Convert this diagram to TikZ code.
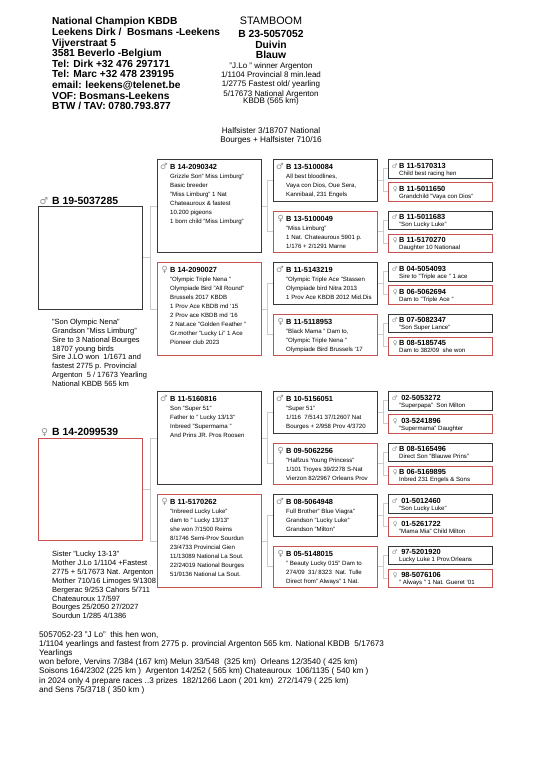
\documentclass[tikz,border=0pt]{standalone}
\usepackage{fontspec}
\setmainfont{Liberation Sans}
\newfontfamily\signfont{DejaVu Sans}
\usepackage{xcolor}
\definecolor{HenRed}{rgb}{0.78, 0.32, 0.32}
\definecolor{CockGrey}{rgb}{0.22, 0.22, 0.22}
\definecolor{LinkGrey}{rgb}{0.80, 0.80, 0.80}
\definecolor{SignGrey}{rgb}{0.55, 0.55, 0.55}
\usepackage{tikz}
\usetikzlibrary{calc, positioning}
\newcommand{\Cs}[1][8.5]{{\signfont\fontsize{#1}{#1}\selectfont\color{SignGrey}\char"2642}}
\newcommand{\Hs}[1][8.5]{{\signfont\fontsize{#1}{#1}\selectfont\color{SignGrey}\char"2640}}
\newcommand{\ring}[1]{{\fontsize{7.4}{9}\selectfont\bfseries #1}}

\begin{document}
\begin{tikzpicture}[
    x=1pt, y=-1pt,
    % Styles
    cockbox/.style={rectangle, draw=CockGrey, line width=0.9pt, inner sep=0pt, anchor=north west, minimum width=104pt},
    henbox/.style={cockbox, draw=HenRed},
    g1/.style={minimum height=102.5pt},
    g2/.style={minimum height=93pt},
    g3/.style={minimum height=41.5pt},
    g4/.style={minimum height=18.5pt},
    info/.style={align=left, inner sep=0pt, font=\fontsize{6.1}{9}\selectfont},
    tinyinfo/.style={align=left, inner sep=0pt, font=\fontsize{6.1}{7}\selectfont},
    notes/.style={align=left, inner sep=0pt, font=\fontsize{7.5}{8.9}\selectfont},
    pigeon/.style={inner sep=0pt, font=\fontsize{10.4}{12}\selectfont\bfseries},
    link/.style={draw=LinkGrey, line width=0.6pt}
]
    \useasboundingbox (0,0) rectangle (540,764);

    % 1. HEADER
    \node[anchor=north west, align=left, inner sep=0pt, font=\fontsize{10.2}{10.6}\selectfont\bfseries] (loft) at (52,17.3) {National Champion KBDB\\Leekens Dirk /\ \ Bosmans -Leekens\\Vijverstraat 5\\3581 Beverlo -Belgium\\Tel: Dirk +32 476 297171\\Tel: Marc +32 478 239195\\email: leekens@telenet.be\\VOF: Bosmans-Leekens\\BTW / TAV: 0780.793.877};
    \node[anchor=north, align=center, inner sep=0pt, font=\fontsize{10.3}{10.4}\selectfont\bfseries] (title) at (271,17) {{\mdseries\fontsize{10.8}{10.4}\selectfont STAMBOOM}\\[2.7pt]B 23-5057052\\Duivin\\Blauw};
    \node[below=3.3pt of title, align=center, inner sep=0pt, font=\fontsize{8}{9.3}\selectfont] (wins) {"J.Lo " winner Argenton\\1/1104 Provincial 8 min.lead\\1/2775 Fastest old/ yearling\\5/17673 National Argenton\\[-2pt]KBDB (565 km)};
    \node[align=center, inner sep=0pt, font=\fontsize{8.2}{9.3}\selectfont] (half) at (271,136) {Halfsister 3/18707 National\\Bourges + Halfsister 710/16};

    % 2. PARENTS
    \node[cockbox, g1] (s) at (38,206) {};
    \node[pigeon, above right=2pt and 14pt of s.north west, anchor=base west] (s-t) {\llap{\Cs[9.5]\hspace{4pt}}B 19-5037285};
    \node[notes, below right=9.3pt and 14pt of s.south west] (s-n) {"Son Olympic Nena"\\Grandson "Miss Limburg"\\Sire to 3 National Bourges\\18707 young birds\\Sire J.LO won\ \ 1/1671 and\\fastest 2775 p. Provincial\\Argenton\ \ 5 / 17673 Yearling\\National KBDB 565 km};

    \node[henbox, g1] (d) at (38,437.5) {};
    \node[pigeon, above right=2pt and 14pt of d.north west, anchor=base west] (d-t) {\llap{\Hs[9.5]\hspace{4pt}}B 14-2099539};
    \node[notes, below right=10pt and 14pt of d.south west] (d-n) {Sister "Lucky 13-13"\\Mother J.Lo 1/1104 +Fastest\\2775 + 5/17673 Nat. Argenton\\Mother 710/16 Limoges 9/1308\\Bergerac 9/253 Cahors 5/711\\Chateauroux 17/597\\Bourges 25/2050 27/2027\\Sourdun 1/285 4/1386};

    % 3. GRANDPARENTS
    \node[cockbox, g2] (ss) at (157,159) {};
    \node[info, below right=4.2pt and 13pt of ss.north west] (ss-t) {\llap{\Cs\hspace{2.4pt}}\ring{B 14-2090342}\\Grizzle Son" Miss Limburg"\\Basic breeder\\"Miss Limburg" 1 Nat\\Chateauroux \& fastest\\10.200 pigeons\\1 born child "Miss Limburg"};
    \node[henbox, g2] (sd) at (157,262) {};
    \node[info, below right=4.2pt and 13pt of sd.north west] (sd-t) {\llap{\Hs\hspace{2.4pt}}\ring{B 14-2090027}\\"Olympic Triple Nena "\\Olympiade Bird "All Round"\\Brussels 2017 KBDB\\1 Prov Ace KBDB md `15\\2 Prov ace KBDB md `16\\2 Nat.ace "Golden Feather "\\Gr.mother "Lucky Li" 1 Ace\\Pioneer club 2023};
    \node[cockbox, g2] (ds) at (157,391) {};
    \node[info, below right=4.2pt and 13pt of ds.north west] (ds-t) {\llap{\Cs\hspace{2.4pt}}\ring{B 11-5160816}\\Son "Super 51"\\Father to " Lucky 13/13"\\Inbreed "Supermama "\\And Prins JR. Pros Roosen};
    \node[henbox, g2] (dd) at (157,494) {};
    \node[info, below right=4.2pt and 13pt of dd.north west] (dd-t) {\llap{\Hs\hspace{2.4pt}}\ring{B 11-5170262}\\"Inbreed Lucky Luke"\\dam to " Lucky 13/13"\\she won 7/1500 Reims\\8/1746 Semi-Prov Sourdun\\23/4733 Provincial Gien\\11/13089 National La Sout.\\22/24019 National Bourges\\51/9136 National La Sout.};

    % 4. GREAT-GRANDPARENTS
    \node[cockbox, g3] (sss) at (273,159) {};
    \node[info, below right=4.2pt and 13pt of sss.north west] (sss-t) {\llap{\Cs\hspace{2.4pt}}\ring{B 13-5100084}\\All best bloodlines,\\Vaya con Dios, Oue Sera,\\Kannibaal, 231 Engels};
    \node[henbox, g3] (ssd) at (273,210.5) {};
    \node[info, below right=4.2pt and 13pt of ssd.north west] (ssd-t) {\llap{\Hs\hspace{2.4pt}}\ring{B 13-5100049}\\"Miss Limburg"\\1 Nat. Chateauroux 5901 p.\\1/176 + 2/1291 Marne};
    \node[cockbox, g3] (sds) at (273,262) {};
    \node[info, below right=4.2pt and 13pt of sds.north west] (sds-t) {\llap{\Cs\hspace{2.4pt}}\ring{B 11-5143219}\\"Olympic Triple Ace "Stassen\\Olympiade bird Nitra 2013\\1 Prov Ace KBDB 2012 Mid.Dis};
    \node[henbox, g3] (sdd) at (273,313.5) {};
    \node[info, below right=4.2pt and 13pt of sdd.north west] (sdd-t) {\llap{\Hs\hspace{2.4pt}}\ring{B 11-5118953}\\"Black Mama " Dam to,\\"Olympic Triple Nena "\\Olympiade Bird Brussels `17};
    \node[cockbox, g3] (dss) at (273,391) {};
    \node[info, below right=4.2pt and 13pt of dss.north west] (dss-t) {\llap{\Cs\hspace{2.4pt}}\ring{B 10-5156051}\\"Super 51"\\1/116\ \ 7/5141 37/12607 Nat\\Bourges + 2/958 Prov 4/3720};
    \node[henbox, g3] (dsd) at (273,442.5) {};
    \node[info, below right=4.2pt and 13pt of dsd.north west] (dsd-t) {\llap{\Hs\hspace{2.4pt}}\ring{B 09-5062256}\\"Halfzus Young Princess"\\1/101 Troyes 39/2278 S-Nat\\Vierzon 82/2967 Orleans Prov};
    \node[cockbox, g3] (dds) at (273,494) {};
    \node[info, below right=4.2pt and 13pt of dds.north west] (dds-t) {\llap{\Cs\hspace{2.4pt}}\ring{B 08-5064948}\\Full Brother" Blue Viagra"\\Grandson "Lucky Luke"\\Grandson "Milton"};
    \node[henbox, g3] (ddd) at (273,545.5) {};
    \node[info, below right=4.2pt and 13pt of ddd.north west] (ddd-t) {\llap{\Hs\hspace{2.4pt}}\ring{B 05-5148015}\\" Beauty Lucky 015" Dam to\\274/09\ \ 31/ 8323\ \ Nat. Tulle\\Direct from" Always" 1 Nat.};

    % 5. GREAT-GREAT-GRANDPARENTS
    \node[cockbox, g4] (ssss) at (388,159) {};
    \node[tinyinfo, below right=3.8pt and 11pt of ssss.north west] {\llap{\Cs[6.5]\hspace{1.5pt}}\ring{B 11-5170313}\\Child best racing hen};
    \node[henbox, g4] (sssd) at (388,182) {};
    \node[tinyinfo, below right=3.8pt and 11pt of sssd.north west] {\llap{\Hs[6.5]\hspace{1.5pt}}\ring{B 11-5011650}\\Grandchild "Vaya con Dios"};
    \node[cockbox, g4] (ssds) at (388,210.5) {};
    \node[tinyinfo, below right=3.8pt and 11pt of ssds.north west] {\llap{\Cs[6.5]\hspace{1.5pt}}\ring{B 11-5011683}\\"Son Lucky Luke"};
    \node[henbox, g4] (ssdd) at (388,233.5) {};
    \node[tinyinfo, below right=3.8pt and 11pt of ssdd.north west] {\llap{\Hs[6.5]\hspace{1.5pt}}\ring{B 11-5170270}\\Daughter 10 Nationaal};
    \node[cockbox, g4] (sdss) at (388,262) {};
    \node[tinyinfo, below right=3.8pt and 11pt of sdss.north west] {\llap{\Cs[6.5]\hspace{1.5pt}}\ring{B 04-5054093}\\Sire to "Triple ace " 1 ace};
    \node[henbox, g4] (sdsd) at (388,285) {};
    \node[tinyinfo, below right=3.8pt and 11pt of sdsd.north west] {\llap{\Hs[6.5]\hspace{1.5pt}}\ring{B 06-5062694}\\Dam to "Triple Ace "};
    \node[cockbox, g4] (sdds) at (388,313.5) {};
    \node[tinyinfo, below right=3.8pt and 11pt of sdds.north west] {\llap{\Cs[6.5]\hspace{1.5pt}}\ring{B 07-5082347}\\"Son Super Lance"};
    \node[henbox, g4] (sddd) at (388,336.5) {};
    \node[tinyinfo, below right=3.8pt and 11pt of sddd.north west] {\llap{\Hs[6.5]\hspace{1.5pt}}\ring{B 08-5185745}\\Dam to 382/09\ \ she won};
    \node[cockbox, g4] (dsss) at (388,391) {};
    \node[tinyinfo, below right=3.8pt and 11pt of dsss.north west] {\llap{\Cs[6.5]\hspace{1.5pt}}\ring{\ 02-5053272}\\"Superpapa"\ \ Son Milton};
    \node[henbox, g4] (dssd) at (388,414) {};
    \node[tinyinfo, below right=3.8pt and 11pt of dssd.north west] {\llap{\Hs[6.5]\hspace{1.5pt}}\ring{\ 03-5241896}\\"Supermama" Daughter};
    \node[cockbox, g4] (dsds) at (388,442.5) {};
    \node[tinyinfo, below right=3.8pt and 11pt of dsds.north west] {\llap{\Cs[6.5]\hspace{1.5pt}}\ring{B 08-5165496}\\Direct Son "Blauwe Prins"};
    \node[henbox, g4] (dsdd) at (388,465.5) {};
    \node[tinyinfo, below right=3.8pt and 11pt of dsdd.north west] {\llap{\Hs[6.5]\hspace{1.5pt}}\ring{B 06-5169895}\\Inbred 231 Engels \& Sons};
    \node[cockbox, g4] (ddss) at (388,494) {};
    \node[tinyinfo, below right=3.8pt and 11pt of ddss.north west] {\llap{\Cs[6.5]\hspace{1.5pt}}\ring{\ 01-5012460}\\"Son Lucky Luke"};
    \node[henbox, g4] (ddsd) at (388,517) {};
    \node[tinyinfo, below right=3.8pt and 11pt of ddsd.north west] {\llap{\Hs[6.5]\hspace{1.5pt}}\ring{\ 01-5261722}\\"Mama Mia" Child Milton};
    \node[cockbox, g4] (ddds) at (388,545.5) {};
    \node[tinyinfo, below right=3.8pt and 11pt of ddds.north west] {\llap{\Cs[6.5]\hspace{1.5pt}}\ring{\ 97-5201920}\\Lucky Luke 1 Prov.Orleans};
    \node[henbox, g4] (dddd) at (388,568.5) {};
    \node[tinyinfo, below right=3.8pt and 11pt of dddd.north west] {\llap{\Hs[6.5]\hspace{1.5pt}}\ring{\ 98-5076106}\\" Always " 1 Nat. Gueret `01};

    % 6. LINKS
    \draw[link] (s.east) -- ++(7.5,0) |- (ss.west) (s.east) -- ++(7.5,0) |- (sd.west);
    \draw[link] (d.east) -- ++(7.5,0) |- (ds.west) (d.east) -- ++(7.5,0) |- (dd.west);
    \draw[link] (ss.east) -- ++(5,0) |- (sss.west) (ss.east) -- ++(5,0) |- (ssd.west);
    \draw[link] (sd.east) -- ++(5,0) |- (sds.west) (sd.east) -- ++(5,0) |- (sdd.west);
    \draw[link] (ds.east) -- ++(5,0) |- (dss.west) (ds.east) -- ++(5,0) |- (dsd.west);
    \draw[link] (dd.east) -- ++(5,0) |- (dds.west) (dd.east) -- ++(5,0) |- (ddd.west);
    \draw[link] (sss.east) -- ++(5,0) |- (ssss.west) (sss.east) -- ++(5,0) |- (sssd.west);
    \draw[link] (ssd.east) -- ++(5,0) |- (ssds.west) (ssd.east) -- ++(5,0) |- (ssdd.west);
    \draw[link] (sds.east) -- ++(5,0) |- (sdss.west) (sds.east) -- ++(5,0) |- (sdsd.west);
    \draw[link] (sdd.east) -- ++(5,0) |- (sdds.west) (sdd.east) -- ++(5,0) |- (sddd.west);
    \draw[link] (dss.east) -- ++(5,0) |- (dsss.west) (dss.east) -- ++(5,0) |- (dssd.west);
    \draw[link] (dsd.east) -- ++(5,0) |- (dsds.west) (dsd.east) -- ++(5,0) |- (dsdd.west);
    \draw[link] (dds.east) -- ++(5,0) |- (ddss.west) (dds.east) -- ++(5,0) |- (ddsd.west);
    \draw[link] (ddd.east) -- ++(5,0) |- (ddds.west) (ddd.east) -- ++(5,0) |- (dddd.west);

    % 7. RESULTS
    \node[anchor=north west, align=left, inner sep=0pt, font=\fontsize{8.15}{9.2}\selectfont] (story) at (39,631) {5057052-23 "J Lo"\ \ this hen won,\\1/1104 yearlings and fastest from 2775 p. provincial Argenton 565 km. National KBDB\ \ 5/17673\\Yearlings\\won before, Vervins 7/384 (167 km) Melun 33/548\ \ (325 km)\ \ Orleans 12/3540 ( 425 km)\\Soisons 164/2302 (225 km )\ \ Argenton 14/252 ( 565 km) Chateauroux\ \ 106/1135 ( 540 km )\\in 2024 only 4 prepare races ..3 prizes\ \ 182/1266 Laon ( 201 km)\ \ 272/1479 ( 225 km)\\and Sens 75/3718 ( 350 km )};

\end{tikzpicture}
\end{document}
